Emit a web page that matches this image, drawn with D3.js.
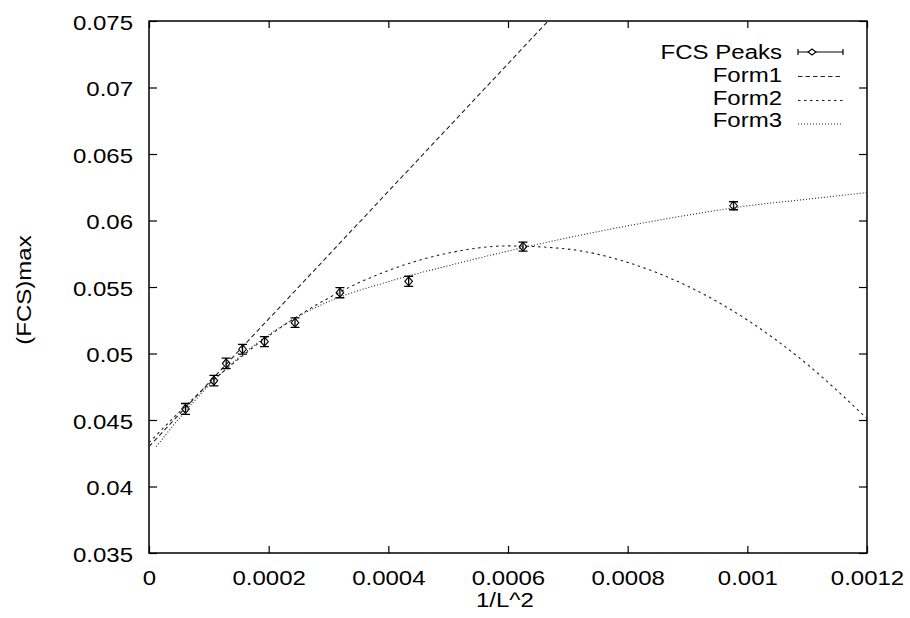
<!DOCTYPE html>
<html>
<head>
<meta charset="utf-8">
<script src="https://cdn.jsdelivr.net/npm/d3@7"></script>
<style>
  body { margin: 0; background: #fff; }
  text { font-family: "Liberation Sans", Arial, sans-serif; font-size: 20px; fill: #000; }
</style>
</head>
<body>
<div id="chart"></div>
<script>
// FCS peak positions against 1/L^2
const peakX = [0.0000610, 0.0001085, 0.0001290, 0.0001563, 0.0001930, 0.0002440, 0.0003190, 0.0004340, 0.0006250, 0.0009770];
const peakY = [0.04583, 0.04796, 0.04926, 0.05032, 0.05089, 0.05232, 0.05457, 0.05543, 0.05803, 0.06111];
const peakErr = [0.00041, 0.00040, 0.00039, 0.00036, 0.00038, 0.00036, 0.00038, 0.00038, 0.00034, 0.00030];

// fitted curves
const form1X = [0, 0.000667];
const form1Y = [0.0430, 0.0750];

const form2X = [0, 0.0001, 0.0002, 0.0003, 0.0004, 0.0005, 0.0006, 0.0007, 0.0008, 0.0009, 0.0010, 0.0011, 0.0012];
const form2Y = [0.0433, 0.04769, 0.05132, 0.05417, 0.05624, 0.05755, 0.05809, 0.05785, 0.05685, 0.05507, 0.05252, 0.04919, 0.04510];

const form3X = [0.0000121, 0.00005, 0.0001, 0.00015, 0.0002, 0.00025, 0.0003, 0.0004, 0.0005, 0.0006, 0.0007, 0.0008, 0.0009, 0.0010, 0.0011, 0.0012];
const form3Y = [0.0430, 0.0451, 0.0476, 0.0497, 0.0514, 0.0528, 0.0539, 0.0554, 0.0566, 0.0577, 0.0587, 0.0596, 0.0604, 0.0611, 0.0616, 0.0621];

const xTicks = [0, 0.0002, 0.0004, 0.0006, 0.0008, 0.001, 0.0012];
const xTickLabels = ["0", "0.0002", "0.0004", "0.0006", "0.0008", "0.001", "0.0012"];
const yTicks = [0.035, 0.04, 0.045, 0.05, 0.055, 0.06, 0.065, 0.07, 0.075];
const yTickLabels = ["0.035", "0.04", "0.045", "0.05", "0.055", "0.06", "0.065", "0.07", "0.075"];

const legendNames = ["FCS Peaks", "Form1", "Form2", "Form3"];

const width = 910, height = 618;
const margin = { top: 21, right: 43, bottom: 65, left: 149 };
const w = width - margin.left - margin.right;
const h = height - margin.top - margin.bottom;

// gnuplot's text looks wider than Arial, stretch it a bit
function stretch(sel) {
    sel.each(function () {
        const len = this.getComputedTextLength();
        d3.select(this).attr("textLength", len * 1.2).attr("lengthAdjust", "spacingAndGlyphs");
    });
}

const x = d3.scaleLinear().domain([0, 0.0012]).range([0, w]);
const y = d3.scaleLinear().domain([0.035, 0.075]).range([h, 0]);

const svg = d3.select("#chart").append("svg")
    .attr("width", width)
    .attr("height", height);

svg.append("defs").append("clipPath").attr("id", "plot-clip")
    .append("rect").attr("width", w).attr("height", h);

const g = svg.append("g")
    .attr("transform", "translate(" + margin.left + "," + margin.top + ")");

// axes, ticks pointing inward on all four sides
const xAxis = g.append("g")
    .attr("transform", "translate(0," + h + ")")
    .call(d3.axisBottom(x).tickValues(xTicks).tickFormat((d, i) => xTickLabels[i])
        .tickSizeInner(-7).tickSizeOuter(0).tickPadding(18));
const yAxis = g.append("g")
    .call(d3.axisLeft(y).tickValues(yTicks).tickFormat((d, i) => yTickLabels[i])
        .tickSizeInner(-8).tickSizeOuter(0).tickPadding(16));
g.append("g")
    .call(d3.axisTop(x).tickValues(xTicks).tickFormat("").tickSizeInner(-7).tickSizeOuter(0));
g.append("g")
    .attr("transform", "translate(" + w + ",0)")
    .call(d3.axisRight(y).tickValues(yTicks).tickFormat("").tickSizeInner(-8).tickSizeOuter(0));

g.selectAll(".domain").remove();
g.selectAll(".tick line").attr("stroke", "#000").attr("stroke-width", 1.2);
xAxis.selectAll("text").attr("font-size", null).attr("font-family", null).call(stretch);
yAxis.selectAll("text").attr("font-size", null).attr("font-family", null).attr("dy", "0.4em").call(stretch);

g.append("rect")
    .attr("width", w).attr("height", h)
    .attr("fill", "none").attr("stroke", "#000").attr("stroke-width", 1.5);

// axis titles
svg.append("text")
    .attr("x", 505).attr("y", 607)
    .attr("text-anchor", "middle")
    .text("1/L^2")
    .call(stretch);

svg.append("text")
    .attr("transform", "translate(31,290) rotate(-90)")
    .attr("text-anchor", "middle")
    .text("(FCS)max")
    .call(stretch);

// fitted curves
const line = d3.line()
    .x(d => x(d[0]))
    .y(d => y(d[1]))
    .curve(d3.curveMonotoneX);

const curves = [
    { xs: form1X, ys: form1Y, dash: "4.5,3" },
    { xs: form2X, ys: form2Y, dash: "2.5,3.5" },
    { xs: form3X, ys: form3Y, dash: "1,2" }
];

const plot = g.append("g").attr("clip-path", "url(#plot-clip)");

plot.selectAll("path.fit")
    .data(curves)
    .enter().append("path")
    .attr("class", "fit")
    .attr("d", c => line(c.xs.map((v, i) => [v, c.ys[i]])))
    .attr("fill", "none")
    .attr("stroke", "#222")
    .attr("stroke-width", 1.1)
    .attr("stroke-dasharray", c => c.dash);

// data points with error bars
const peaks = peakX.map((v, i) => ({ x: v, y: peakY[i], e: peakErr[i] }));

const pts = plot.selectAll("g.peak")
    .data(peaks)
    .enter().append("g")
    .attr("class", "peak");

pts.append("path")
    .attr("d", d => {
        const cx = x(d.x), top = y(d.y + d.e), bot = y(d.y - d.e);
        return "M" + cx + "," + top + "V" + bot +
            "M" + (cx - 4.5) + "," + top + "H" + (cx + 4.5) +
            "M" + (cx - 4.5) + "," + bot + "H" + (cx + 4.5);
    })
    .attr("stroke", "#000").attr("stroke-width", 1.3).attr("fill", "none");

pts.append("path")
    .attr("d", d => {
        const cx = x(d.x), cy = y(d.y);
        return "M" + cx + "," + (cy - 4.5) + "L" + (cx + 3.8) + "," + cy +
            "L" + cx + "," + (cy + 4.5) + "L" + (cx - 3.8) + "," + cy + "Z";
    })
    .attr("stroke", "#000").attr("stroke-width", 1.1).attr("fill", "none");

// legend
const legendLineY = [52, 76.5, 100.5, 124];
const legendTextY = [58.5, 81.5, 104.5, 127];
const legend = svg.append("g");

legend.selectAll("text")
    .data(legendNames)
    .enter().append("text")
    .attr("x", 782)
    .attr("y", (d, i) => legendTextY[i])
    .attr("text-anchor", "end")
    .text(d => d)
    .call(stretch);

legend.append("path")
    .attr("d", "M798," + legendLineY[0] + "H843" +
        "M798," + (legendLineY[0] - 3) + "V" + (legendLineY[0] + 3) +
        "M843," + (legendLineY[0] - 3) + "V" + (legendLineY[0] + 3))
    .attr("stroke", "#000").attr("stroke-width", 1.2).attr("fill", "none");
legend.append("path")
    .attr("d", "M812," + (legendLineY[0] - 3) + "L816," + legendLineY[0] +
        "L812," + (legendLineY[0] + 3) + "L808," + legendLineY[0] + "Z")
    .attr("stroke", "#000").attr("stroke-width", 1.1).attr("fill", "#fff");

legend.selectAll("line.key")
    .data(curves)
    .enter().append("line")
    .attr("class", "key")
    .attr("x1", 798).attr("x2", 843)
    .attr("y1", (c, i) => legendLineY[i + 1])
    .attr("y2", (c, i) => legendLineY[i + 1])
    .attr("stroke", "#222")
    .attr("stroke-width", 1.1)
    .attr("stroke-dasharray", c => c.dash);
</script>
</body>
</html>
